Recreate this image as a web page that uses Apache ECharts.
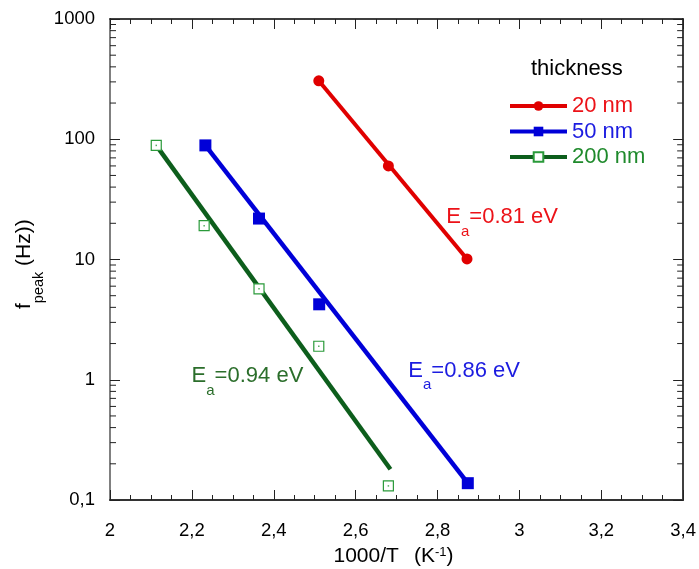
<!DOCTYPE html>
<html><head><meta charset="utf-8">
<script src="https://cdn.jsdelivr.net/npm/echarts@6/dist/echarts.min.js"></script>
<style>html,body{margin:0;padding:0;background:#fff}#c{width:699px;height:569px}</style>
</head><body><div id="c"></div>
<script>
// ---- data ----
const x20 = [2.51, 2.68, 2.872];
const y20 = [306, 60, 10.1];
const x50 = [2.233, 2.364, 2.511, 2.874];
const y50 = [88.9, 21.9, 4.24, 0.138];
const x200 = [2.113, 2.23, 2.364, 2.51, 2.68];
const y200 = [88.9, 19.1, 5.7, 1.9, 0.131];
// Arrhenius fit lines (end points)
const fitX20 = [2.51, 2.872];   const fitY20 = [306, 10.1];
const fitX50 = [2.233, 2.874];  const fitY50 = [88.9, 0.138];
const fitX200 = [2.113, 2.685]; const fitY200 = [88.9, 0.18];
// tick labels
const xTickValues = [2, 2.2, 2.4, 2.6, 2.8, 3, 3.2, 3.4];
const xTickLabels = ['2', '2,2', '2,4', '2,6', '2,8', '3', '3,2', '3,4'];
const yTickValues = [0.1, 1, 10, 100, 1000];
const yTickLabels = ['0,1', '1', '10', '100', '1000'];
const seriesNames = ['20 nm', '50 nm', '200 nm'];
const eaLabels = ['=0.81 eV', '=0.86 eV', '=0.94 eV'];

const FONT = 'Liberation Sans, Arial, sans-serif';
const RED = '#e00000', BLUE = '#0000d8', GREEN_LINE = '#0d5e1c', GREEN_MK = '#2a9a3a';
const RED_T = '#ec1218', BLUE_T = '#1c1ce0', GREEN_T = '#1f8a2c', GREEN_T2 = '#2b6e2b';

const zip = (xs, ys) => xs.map((x, i) => [x, ys[i]]);
const xMin = 2, xMax = 3.4;
const minorY = [];
for (let k = -1; k <= 2; k++) for (let m = 2; m <= 9; m++) minorY.push([xMin, m * Math.pow(10, k)]);

function lbl(values, labels) {
  return v => { for (let i = 0; i < values.length; i++) if (Math.abs(values[i] - v) < 1e-6 * Math.max(1, values[i])) return labels[i]; return ''; };
}

// text runs with sub/superscripts
const mctx = document.createElement('canvas').getContext('2d');
function tw(t, size) { mctx.font = size + 'px ' + FONT; return mctx.measureText(t).width; }
function run(x, y, pieces, fill, rotation) {
  let cx = 0; const children = [];
  pieces.forEach(p => {
    if (p.x != null) cx = p.x;
    children.push({type: 'text', x: cx, y: p.dy || 0,
      style: {text: p.t, fontSize: p.s, fontFamily: FONT, fill: fill, align: 'left', verticalAlign: 'middle'}});
    cx += tw(p.t, p.s);
  });
  return {type: 'group', x: x, y: y, rotation: rotation || 0, silent: true, children: children};
}
function eaRun(x, y, label, fill) {
  return run(x, y, [{t: 'E', s: 22}, {t: 'a', s: 15, dy: 14.5}, {t: label, s: 22}], fill);
}

const chart = echarts.init(document.getElementById('c'), null, {renderer: 'canvas'});
const baseX = {
  type: 'value', min: xMin, max: xMax, interval: 0.2,
  splitLine: {show: false},
  axisTick: {show: true, inside: true, length: 10, lineStyle: {color: '#222', width: 1}},
  minorTick: {show: true, splitNumber: 4, length: 5, lineStyle: {color: '#222', width: 1}},
};
const baseY = {
  type: 'log', logBase: 10, min: 0.1, max: 1000,
  splitLine: {show: false}, minorSplitLine: {show: false},
  axisTick: {show: true, inside: true, length: 10, lineStyle: {color: '#222', width: 1}},
};
const option = {
  animation: false,
  backgroundColor: '#fff',
  grid: {left: 110, right: 13, top: 19, bottom: 69, containLabel: false},
  title: {text: 'thickness', left: 531, top: 58, padding: 0,
    textStyle: {fontSize: 22, fontWeight: 'normal', color: '#000', fontFamily: FONT}},
  legend: {
    orient: 'vertical', left: 508, top: 95, padding: 0, itemWidth: 57, itemHeight: 12, itemGap: 3.5,
    selectedMode: false, textStyle: {fontSize: 22, lineHeight: 21, fontFamily: FONT},
    data: [
      {name: seriesNames[0], textStyle: {color: RED_T}, lineStyle: {color: RED, width: 4, opacity: 1}},
      {name: seriesNames[1], textStyle: {color: BLUE_T}, lineStyle: {color: BLUE, width: 4, opacity: 1}},
      {name: seriesNames[2], textStyle: {color: GREEN_T}, lineStyle: {color: GREEN_LINE, width: 4, opacity: 1}}
    ]
  },
  xAxis: [
    Object.assign({}, baseX, {
      position: 'bottom',
      axisLine: {show: true, onZero: false, lineStyle: {color: '#333', width: 2}},
      axisLabel: {show: true, fontSize: 18.5, color: '#000', fontFamily: FONT, margin: 21,
        formatter: lbl(xTickValues, xTickLabels)}
    }),
    Object.assign({}, baseX, {
      position: 'top',
      axisLine: {show: true, onZero: false, lineStyle: {color: '#000', width: 1.5}},
      axisLabel: {show: false}
    })
  ],
  yAxis: [
    Object.assign({}, baseY, {
      position: 'left',
      axisLine: {show: true, onZero: false, lineStyle: {color: '#808080', width: 2}},
      axisLabel: {show: true, fontSize: 18.5, color: '#000', fontFamily: FONT, margin: 15,
        formatter: lbl(yTickValues, yTickLabels)}
    }),
    Object.assign({}, baseY, {
      position: 'right',
      axisLine: {show: true, onZero: false, lineStyle: {color: '#000', width: 1.5}},
      axisLabel: {show: false}
    })
  ],
  graphic: [
    // y-axis title: f_peak (Hz))
    run(24.5, 309, [{t: 'f', s: 21}, {t: 'peak', s: 14.5, dy: 14}, {t: ' (Hz))', s: 21}], '#000', Math.PI / 2),
    // x-axis title: 1000/T  (K^-1)
    run(333.5, 556.5, [{t: '1000/T', s: 21}, {t: '(K', s: 21, x: 80.5}, {t: '-1', s: 13, dy: -4.5}, {t: ')', s: 21}], '#000'),
    eaRun(446.3, 217.3, eaLabels[0], RED_T),
    eaRun(408.3, 370.8, eaLabels[1], BLUE_T),
    eaRun(191.6, 376.2, eaLabels[2], GREEN_T2)
  ],
  series: [
    {name: 'fit20', type: 'line', data: zip(fitX20, fitY20), symbol: 'none', z: 2, silent: true,
      lineStyle: {color: RED, width: 4}},
    {name: 'fit50', type: 'line', data: zip(fitX50, fitY50), symbol: 'none', z: 2, silent: true,
      lineStyle: {color: BLUE, width: 4.5}},
    {name: 'fit200', type: 'line', data: zip(fitX200, fitY200), symbol: 'none', z: 2, silent: true,
      lineStyle: {color: GREEN_LINE, width: 4.5}},
    {name: seriesNames[0], type: 'line', data: zip(x20, y20), symbol: 'circle', symbolSize: 11, z: 4,
      itemStyle: {color: RED}, lineStyle: {color: RED, width: 4, opacity: 0}},
    {name: seriesNames[1], type: 'line', data: zip(x50, y50), symbol: 'rect', symbolSize: 12, z: 4,
      itemStyle: {color: BLUE}, lineStyle: {color: BLUE, width: 4, opacity: 0}},
    {name: seriesNames[2], type: 'line', data: zip(x200, y200), symbol: 'rect', symbolSize: 10, z: 4,
      itemStyle: {color: '#fff', borderColor: GREEN_MK, borderWidth: 1.2}, lineStyle: {color: GREEN_LINE, width: 4, opacity: 0}},
    {name: 'dot200', type: 'scatter', data: zip(x200, y200), symbol: 'rect', symbolSize: 1.5, z: 5, silent: true,
      itemStyle: {color: GREEN_MK}},
    {name: 'minorYTicks', type: 'custom', coordinateSystem: 'cartesian2d', data: minorY, silent: true, z: 1,
      renderItem: function (params, api) {
        const v = api.value(1);
        const pl = api.coord([xMin, v]);
        const pr = api.coord([xMax, v]);
        return {type: 'group', children: [
          {type: 'line', shape: {x1: pl[0], y1: pl[1], x2: pl[0] + 6, y2: pl[1]}, style: {stroke: '#222', lineWidth: 1}},
          {type: 'line', shape: {x1: pr[0] - 6, y1: pr[1], x2: pr[0], y2: pr[1]}, style: {stroke: '#222', lineWidth: 1}}
        ]};
      }}
  ]
};
chart.setOption(option);
</script>
</body></html>
